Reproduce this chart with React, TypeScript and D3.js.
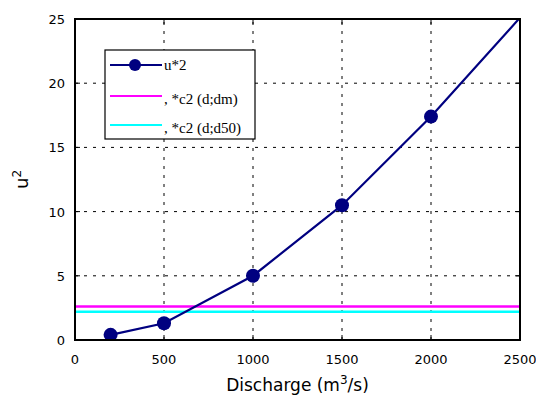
import React from "react";
import * as d3 from "d3";

// discharge (m3/s) vs u*^2
const discharge = [200, 500, 1000, 1500, 2000, 2500];
const uStar2 = [0.4, 1.3, 5.0, 10.5, 17.4, 25.1];
const critDm = 2.6;
const critD50 = 2.2;
const xTicks = [0, 500, 1000, 1500, 2000, 2500];
const yTicks = [0, 5, 10, 15, 20, 25];
const legendLabels = ["u*2", ", *c2 (d;dm)", ", *c2 (d;d50)"];

const W = 536, H = 403;
const m = { left: 75, right: 16, top: 19, bottom: 63 };

export default function App() {
  const x = d3.scaleLinear().domain([0, 2500]).range([m.left, W - m.right]);
  const y = d3.scaleLinear().domain([0, 25]).range([H - m.bottom, m.top]);
  const pts = discharge.map((d, i) => [d, uStar2[i]] as [number, number]);
  const line = d3.line<[number, number]>().x(d => x(d[0])).y(d => y(d[1]));
  const x0 = x(0), x1 = x(2500), y0 = y(0), y1 = y(25);
  const tickFont = "'DejaVu Sans', sans-serif";

  return (
    <svg width={W} height={H} style={{ position: "absolute", left: 0, top: 0, background: "#fff" }}>
      <defs>
        <clipPath id="plot">
          <rect x={x0} y={y1} width={x1 - x0} height={y0 - y1} />
        </clipPath>
      </defs>
      {/* grid */}
      {xTicks.slice(1, -1).map(t => (
        <line key={"gx" + t} x1={x(t)} x2={x(t)} y1={y0} y2={y1} stroke="#000" strokeWidth={1} strokeDasharray="3 6" />
      ))}
      {yTicks.slice(1, -1).map(t => (
        <line key={"gy" + t} x1={x0} x2={x1} y1={y(t)} y2={y(t)} stroke="#000" strokeWidth={1} strokeDasharray="3 6" />
      ))}
      {/* ticks inside */}
      {xTicks.map(t => (
        <g key={"tx" + t}>
          <line x1={x(t)} x2={x(t)} y1={y0} y2={y0 - 5} stroke="#000" />
          <line x1={x(t)} x2={x(t)} y1={y1} y2={y1 + 5} stroke="#000" />
          <text x={x(t)} y={y0 + 24} textAnchor="middle" fontFamily={tickFont} fontSize={13} fill="#000">{t}</text>
        </g>
      ))}
      {yTicks.map(t => (
        <g key={"ty" + t}>
          <line x1={x0} x2={x0 + 5} y1={y(t)} y2={y(t)} stroke="#000" />
          <line x1={x1} x2={x1 - 5} y1={y(t)} y2={y(t)} stroke="#000" />
          <text x={x0 - 10} y={y(t) + 5} textAnchor="end" fontFamily={tickFont} fontSize={13} fill="#000">{t}</text>
        </g>
      ))}
      <g clipPath="url(#plot)">
        <line x1={x0} x2={x1} y1={y(critDm)} y2={y(critDm)} stroke="#ff00ff" strokeWidth={2.5} />
        <line x1={x0} x2={x1} y1={y(critD50)} y2={y(critD50)} stroke="#00ffff" strokeWidth={2.5} />
        <path d={line(pts) || ""} fill="none" stroke="#000080" strokeWidth={2.2} />
        {pts.filter(p => p[1] <= 25).map(p => (
          <circle key={p[0]} cx={x(p[0])} cy={y(p[1])} r={7} fill="#000080" />
        ))}
      </g>
      <rect x={x0} y={y1} width={x1 - x0} height={y0 - y1} fill="none" stroke="#000" strokeWidth={2} />
      {/* legend */}
      <g>
        <rect x={105} y={50} width={150} height={89} fill="#fff" stroke="#000" strokeWidth={1.2} />
        {legendLabels.map((lab, i) => {
          const ly = [65, 96, 125][i];
          const col = ["#000080", "#ff00ff", "#00ffff"][i];
          return (
            <g key={lab}>
              <line x1={110} x2={162} y1={ly} y2={ly} stroke={col} strokeWidth={2.2} />
              {i === 0 && <circle cx={135} cy={ly} r={6} fill="#000080" />}
              <text x={164} y={ly + 5 + (i > 0 ? 3 : 0)} fontFamily="'Liberation Serif', serif" fontSize={15} fill="#000">{lab}</text>
            </g>
          );
        })}
      </g>
      <text x={(x0 + x1) / 2} y={391} textAnchor="middle" fontFamily={tickFont} fontSize={17} fill="#000">
        Discharge (m<tspan dy={-7} fontSize={12}>3</tspan><tspan dy={7}>/s)</tspan>
      </text>
      <text transform={`translate(28,${(y0 + y1) / 2}) rotate(-90)`} textAnchor="middle" fontFamily={tickFont} fontSize={18} fill="#000">
        u<tspan dy={-7} fontSize={12}>2</tspan>
      </text>
    </svg>
  );
}
